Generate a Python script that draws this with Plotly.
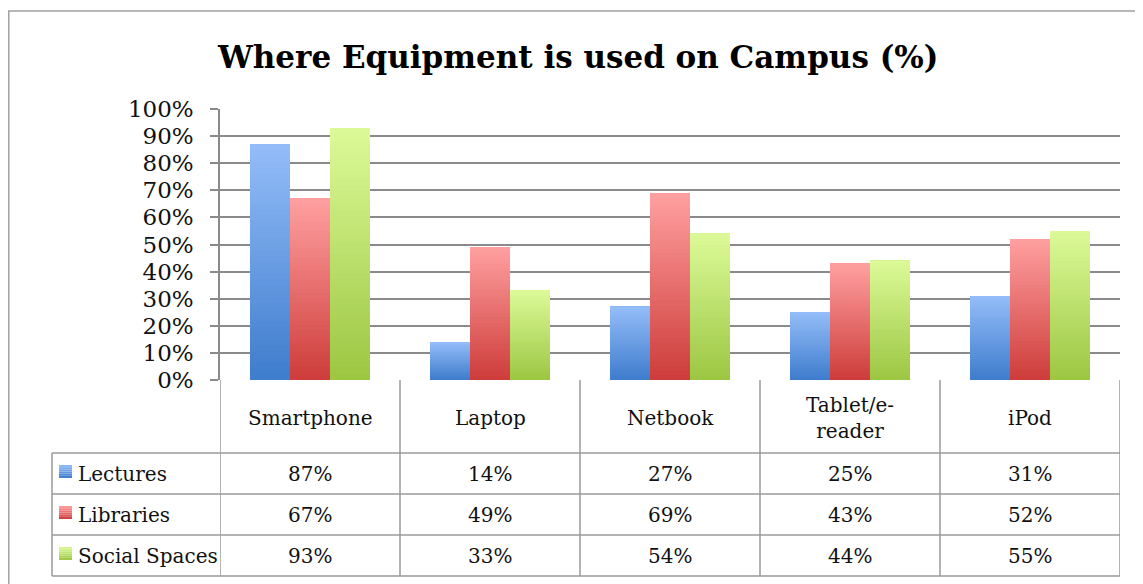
import plotly.graph_objects as go

categories = ["Smartphone", "Laptop", "Netbook", "Tablet/e-<br>reader", "iPod"]
series_names = ["Lectures", "Libraries", "Social Spaces"]
lectures = [87, 14, 27, 25, 31]
libraries = [67, 49, 69, 43, 52]
social_spaces = [93, 33, 54, 44, 55]
y_ticks = [0, 10, 20, 30, 40, 50, 60, 70, 80, 90, 100]

# page body has an 8px margin, so the figure is a bit smaller than the window
OFF = 8
W, H = 1143 - OFF, 584 - OFF
FONT = "DejaVu Serif"
GRID = "#8a8a8a"
LINE = "#9a9a9a"

# (top colour, bottom colour) for the excel style gradient
grads = [((148, 189, 249), (62, 124, 204)),
         ((255, 160, 160), (205, 60, 58)),
         ((220, 250, 152), (156, 198, 66))]


def px(x):
    return (x - OFF) / W


def py(y):
    return 1 - (y - OFF) / H


def mix(top, bot, t):
    c = [round(b + (a - b) * t) for a, b in zip(top, bot)]
    return "rgb(%d,%d,%d)" % tuple(c)


fig = go.Figure()

N = 40
bar_w = 2 / 9
for i, vals in enumerate([lectures, libraries, social_spaces]):
    top, bot = grads[i]
    for k in range(N):
        # each slice runs to the top of the bar so no gaps show between slices
        fig.add_trace(go.Bar(
            x=list(range(len(categories))),
            y=[v * (N - k) / N for v in vals],
            base=[v * k / N for v in vals],
            width=bar_w,
            offset=-1 / 3 + i * bar_w,
            marker=dict(color=mix(top, bot, (k + 0.5) / N), line=dict(width=0)),
            showlegend=False,
            hoverinfo="skip",
        ))

shapes = []
annotations = []

# outer chart frame (left edge sits in the page margin, keep it just inside)
shapes.append(dict(type="rect", xref="paper", yref="paper",
                   x0=px(8.8), x1=px(1150), y0=py(600), y1=py(11),
                   line=dict(color="#a0a0a0", width=1.5)))

# table: vertical lines at category boundaries
for b in range(len(categories) + 1):
    shapes.append(dict(type="line", xref="x", yref="paper",
                       x0=b - 0.5, x1=b - 0.5, y0=py(380), y1=py(576),
                       line=dict(color=LINE, width=1.5)))
# header bottom and row lines
for r in [453, 494, 535, 576]:
    shapes.append(dict(type="line", xref="paper", yref="paper",
                       x0=px(52), x1=px(1120), y0=py(r), y1=py(r),
                       line=dict(color=LINE, width=1.5)))
shapes.append(dict(type="line", xref="paper", yref="paper",
                   x0=px(52), x1=px(52), y0=py(453), y1=py(576),
                   line=dict(color=LINE, width=1.5)))

txt = dict(family=FONT, size=20, color="#111")

# header labels
for j, c in enumerate(categories):
    annotations.append(dict(x=j, y=py(418), xref="x", yref="paper", text=c,
                            xanchor="center", yanchor="middle",
                            showarrow=False, font=txt, align="center"))

# rows
row_mid = [474, 515, 556]
for i, (name, vals) in enumerate(zip(series_names, [lectures, libraries, social_spaces])):
    ym = row_mid[i]
    top, bot = grads[i]
    # legend swatch with a small gradient
    n_sw = 6
    for s in range(n_sw):
        y_lo = ym + 4 - 13 * s / n_sw
        y_hi = ym + 4 - 13 * (s + 1) / n_sw
        shapes.append(dict(type="rect", xref="paper", yref="paper",
                           x0=px(59), x1=px(72), y0=py(y_lo), y1=py(y_hi),
                           fillcolor=mix(top, bot, (s + 0.5) / n_sw), line=dict(width=0)))
    annotations.append(dict(x=px(76), y=py(ym), xref="paper", yref="paper", text=name,
                            xanchor="left", yanchor="middle", showarrow=False, font=txt))
    for j, v in enumerate(vals):
        annotations.append(dict(x=j, y=py(ym), xref="x", yref="paper", text=f"{v}%",
                                xanchor="center", yanchor="middle",
                                showarrow=False, font=txt))

# title
annotations.append(dict(x=px(577), y=py(57), xref="paper", yref="paper",
                        text="<b>Where Equipment is used on Campus (%)</b>",
                        xanchor="center", yanchor="middle",
                        showarrow=False, font=dict(family=FONT, size=31, color="#000")))

fig.update_layout(
    width=W, height=H,
    margin=dict(l=0, r=0, t=0, b=0, autoexpand=False),
    paper_bgcolor="white", plot_bgcolor="white",
    barmode="overlay",
    shapes=shapes,
    annotations=annotations,
    xaxis=dict(domain=[px(220), px(1120)], range=[-0.5, len(categories) - 0.5],
               showticklabels=False, showgrid=False, zeroline=False, ticks="",
               automargin=False),
    yaxis=dict(domain=[py(380), py(109)], range=[0, 100], tickvals=y_ticks,
               ticktext=[f"{t}%" for t in y_ticks], automargin=False,
               showgrid=True, gridcolor=GRID, gridwidth=1.5,
               ticks="outside", ticklen=8, tickcolor=GRID, tickwidth=1.5,
               ticklabelstandoff=12,
               showline=True, linecolor=GRID, linewidth=1.5, zeroline=False,
               tickfont=dict(family=FONT, size=23, color="#111")),
)

fig.write_html("out.html")
